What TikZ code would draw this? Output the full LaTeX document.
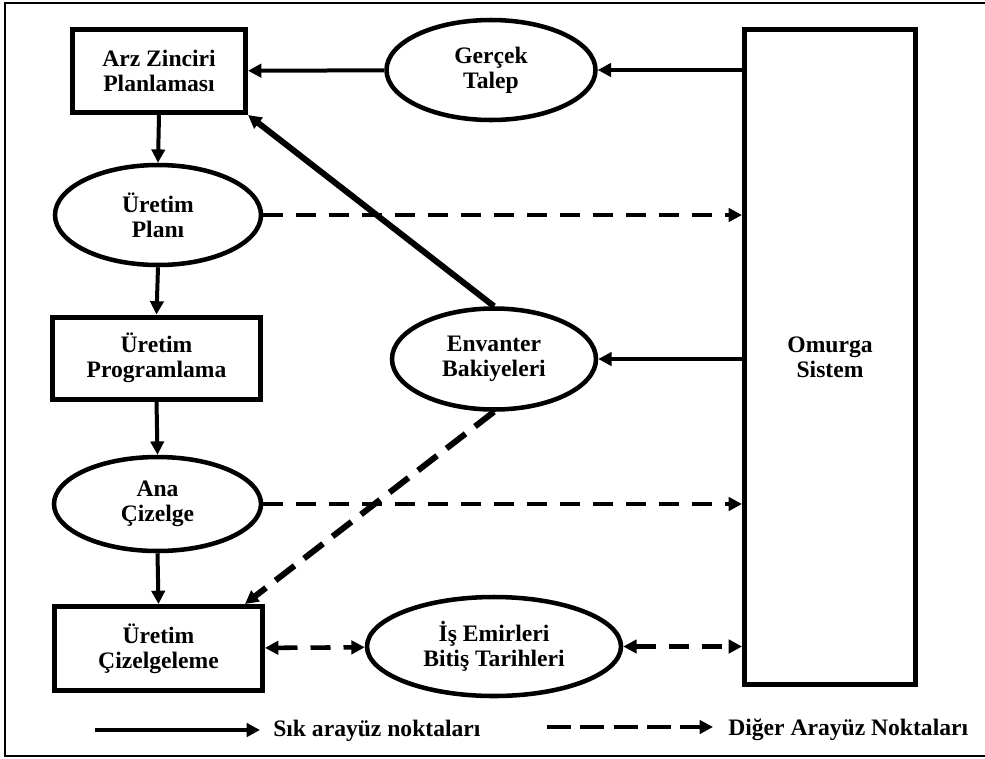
\documentclass[tikz,border=0pt]{standalone}
\usepackage{fontspec}
\setmainfont{Liberation Serif}
\usetikzlibrary{arrows.meta,shapes.geometric}

\tikzset{
  lbl/.style={font=\fontsize{17.7}{18.75}\selectfont\bfseries, align=center, text=black},
  boxnode/.style={lbl, draw, rectangle, line width=3.75pt, inner sep=0pt, fill=white},
  ovalnode/.style={lbl, draw, ellipse, line width=3.4pt, inner sep=0pt, fill=white},
  tip/.style={-{Triangle[length=10pt,width=10pt]}},
  twotips/.style={{Triangle[length=10pt,width=10pt]}-{Triangle[length=10pt,width=10pt]}},
  solidlink/.style={tip, line width=3pt},
  dashlink/.style={tip, line width=3.4pt, dash pattern=on 15pt off 9.75pt},
}

\begin{document}
\begin{tikzpicture}[x=0.75pt, y=-0.75pt]
\useasboundingbox (0,0) rectangle (985,758);

% outer frame (right side runs past the page edge)
\draw[line width=1.5pt] (990,3) -- (5,3) -- (5,756) -- (990,756);

% nodes
\node[boxnode, minimum width=129.75pt, minimum height=62.25pt] (arz) at (159,71) {Arz Zinciri\\Planlaması};
\node[ovalnode, minimum width=156.75pt, minimum height=75pt] (gercek) at (491,70) {Gerçek\\Talep};
\node[boxnode, minimum width=128.25pt, minimum height=491.25pt] (omurga) at (830,357) {Omurga\\Sistem};
\node[ovalnode, minimum width=154.5pt, minimum height=75pt] (plan) at (158,215) {Üretim\\Planı};
\node[boxnode, minimum width=156pt, minimum height=61.5pt] (prog) at (156.5,358) {Üretim\\Programlama};
\node[ovalnode, minimum width=153pt, minimum height=75.75pt] (env) at (494,359) {Envanter\\Bakiyeleri};
\node[ovalnode, minimum width=155.25pt, minimum height=70.5pt] (ana) at (157.5,504) {Ana\\Çizelge};
\node[boxnode, minimum width=156pt, minimum height=63pt] (cizel) at (158.5,648.5) {Üretim\\Çizelgeleme};
\node[ovalnode, minimum width=190.5pt, minimum height=74.25pt] (is) at (494,646.5) {İş Emirleri\\Bitiş Tarihleri};

% frequent interfaces
\draw[solidlink] (gercek) -- (arz);
\draw[solidlink] (gercek -| omurga.west) -- (gercek);
\draw[solidlink] (env -| omurga.west) -- (env);
\draw[solidlink] (arz.south) -- (plan.north);
\draw[solidlink] (plan.south) -- (prog.north);
\draw[solidlink] (prog.south) -- (ana.north);
\draw[solidlink] (ana.south) -- (cizel.north);
\draw[solidlink, line width=4.5pt] (env.north) -- (arz.south east);

% other interfaces
\draw[dashlink] (plan) -- (plan -| omurga.west);
\draw[dashlink] (ana) -- (ana -| omurga.west);
\draw[dashlink, line width=4.5pt, dash pattern=on 18pt off 9pt] (env.south) -- ([xshift=-15pt]cizel.north east);
\draw[dashlink, twotips] (cizel) -- (is);
\draw[dashlink, twotips] (is) -- (is -| omurga.west);

% legend
\coordinate (s1) at (95,730);
\coordinate (s2) at (260,730);
\coordinate (d1) at (547,727);
\coordinate (d2) at (713,727);
\draw[solidlink] (s1) -- (s2);
\node[lbl, anchor=base west, inner sep=0pt] (slbl) at (273,736) {Sık arayüz noktaları};
\draw[dashlink, dash pattern=on 18pt off 7pt] (d1) -- (d2);
\node[lbl, anchor=base west, inner sep=0pt] (dlbl) at (728,735) {Diğer Arayüz Noktaları};
\end{tikzpicture}
\end{document}
